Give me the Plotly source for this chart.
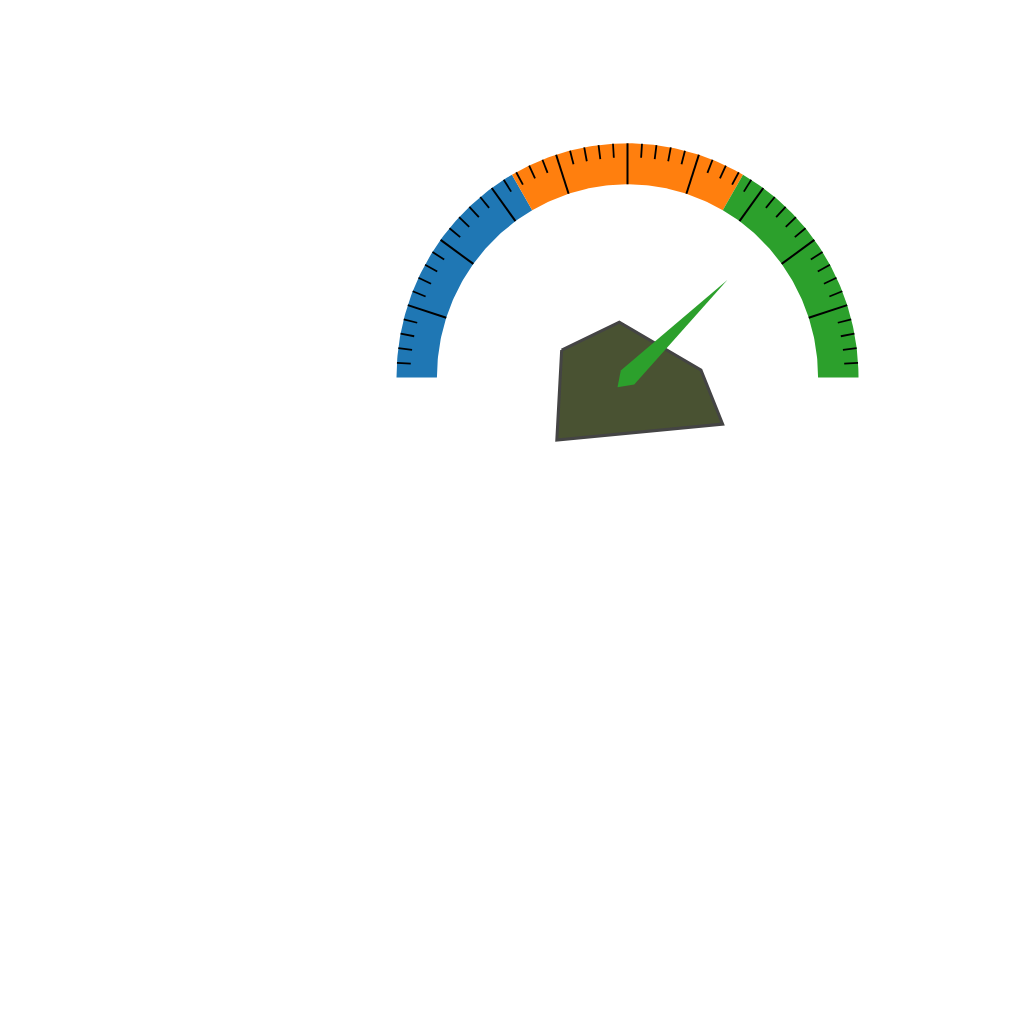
import numpy as np
import plotly.graph_objects as go

# gauge data
band_edges = [0, 33.33, 66.67, 100]
band_colors = ["#1f77b4", "#ff7f0e", "#2ca02c"]
major_ticks = [10, 20, 30, 40, 50, 60, 70, 80, 90]
minor_ticks = [v for v in range(2, 100, 2) if v % 10 != 0]
value = 75.6

# hub polygon (gauge radius units, relative to centre)
hub_x = [-0.285, -0.0355, 0.318, 0.412, -0.306]
hub_y = [0.117, 0.236, 0.032, -0.199, -0.267]

r_out, r_in = 1.0, 0.825
minor_len = 0.06


def ang(v):
    return np.radians(180 - v / 100 * 180)


fig = go.Figure()

for lo, hi, col in zip(band_edges[:-1], band_edges[1:], band_colors):
    t = np.linspace(ang(lo), ang(hi), 80)
    xs = np.concatenate([r_out * np.cos(t), r_in * np.cos(t[::-1])])
    ys = np.concatenate([r_out * np.sin(t), r_in * np.sin(t[::-1])])
    fig.add_trace(go.Scatter(x=xs, y=ys, fill="toself", fillcolor=col,
                             mode="lines", line=dict(width=0), hoverinfo="skip"))

def tick_trace(vals, r0, r1, w):
    xs, ys = [], []
    for v in vals:
        a = ang(v)
        xs += [r0 * np.cos(a), r1 * np.cos(a), None]
        ys += [r0 * np.sin(a), r1 * np.sin(a), None]
    return go.Scatter(x=xs, y=ys, mode="lines", line=dict(color="black", width=w),
                      hoverinfo="skip")

fig.add_trace(tick_trace(minor_ticks, r_out, r_out - minor_len, 1.8))
fig.add_trace(tick_trace(major_ticks, r_out, r_in, 2))

# hub
fig.add_trace(go.Scatter(x=hub_x + hub_x[:1], y=hub_y + hub_y[:1], fill="toself",
                         fillcolor="#495232", mode="lines",
                         line=dict(color="#444444", width=3), hoverinfo="skip"))

# needle
a = ang(value)
nl, nw, tail = 0.6, 0.042, 0.06
px = [nl * np.cos(a), nw * np.cos(a + np.pi / 2), tail * np.cos(a + np.pi),
      nw * np.cos(a - np.pi / 2), nl * np.cos(a)]
py = [nl * np.sin(a), nw * np.sin(a + np.pi / 2), tail * np.sin(a + np.pi),
      nw * np.sin(a - np.pi / 2), nl * np.sin(a)]
fig.add_trace(go.Scatter(x=px, y=py, fill="toself", fillcolor="#2ca02c", mode="lines",
                         line=dict(color="#2ca02c", width=0), hoverinfo="skip"))

fig.update_layout(
    width=1024,
    height=1024,
    margin=dict(l=0, r=0, t=0, b=0),
    showlegend=False,
    plot_bgcolor="white",
    paper_bgcolor="white",
    xaxis=dict(range=[-2.6818, 1.7511], visible=False, fixedrange=True),
    yaxis=dict(range=[-2.7946, 1.5777], visible=False, fixedrange=True),
)

fig.write_html("out.html")
